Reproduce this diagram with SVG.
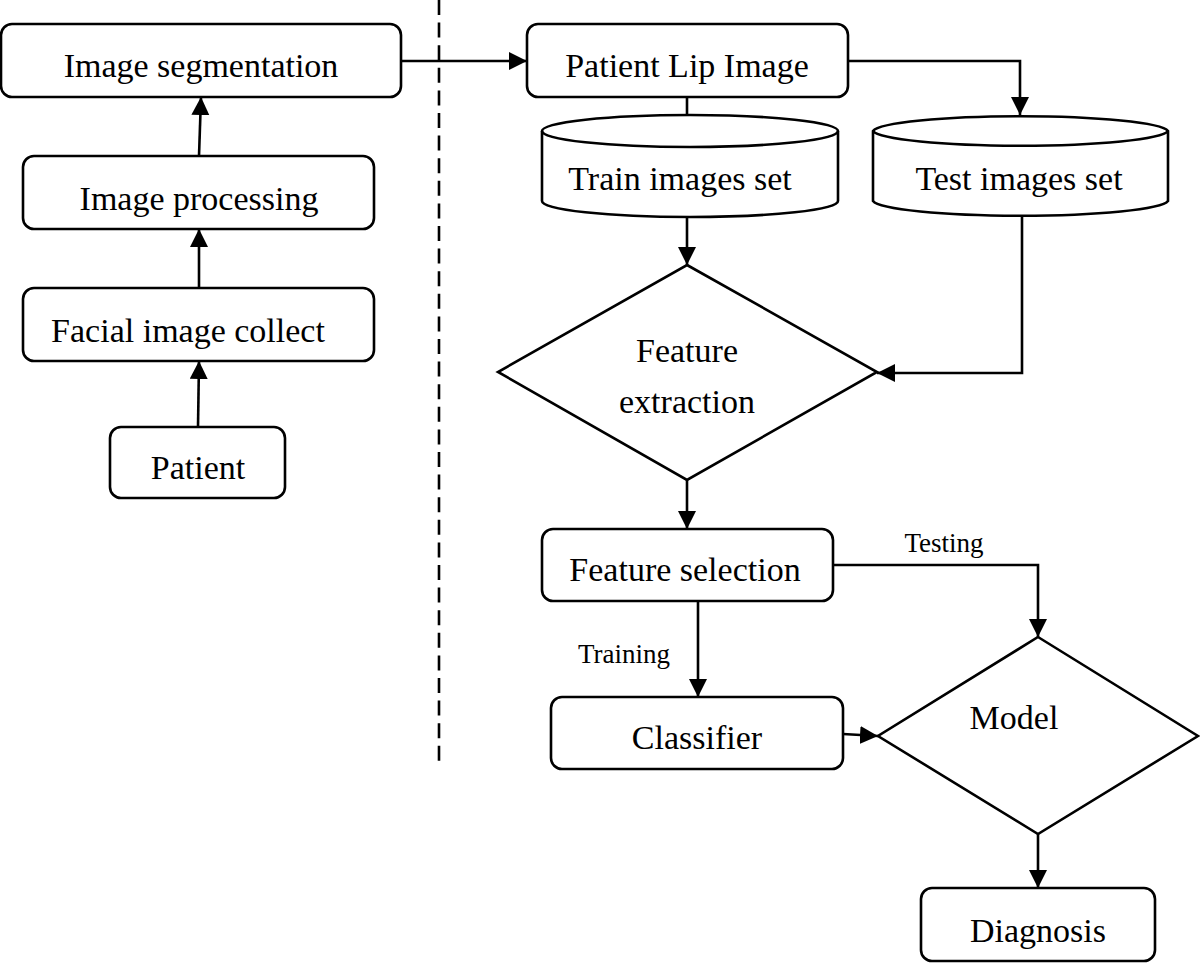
<svg xmlns="http://www.w3.org/2000/svg" width="1200" height="963" viewBox="0 0 1200 963">
<style>
.box{fill:#fff;stroke:#000;stroke-width:2.6}
.ln{fill:none;stroke:#000;stroke-width:2.6}
.t{font-family:"Liberation Serif","Times New Roman",serif;font-size:34px;fill:#000;text-anchor:middle}
.lb{font-family:"Liberation Serif","Times New Roman",serif;font-size:27px;fill:#000;text-anchor:middle}
</style>
<defs>
<marker id="ah" markerUnits="userSpaceOnUse" markerWidth="19" markerHeight="19" refX="18" refY="9" orient="auto" viewBox="0 0 19 19">
<path d="M0,0 L18,9 L0,18 Z" fill="#000"/>
</marker>
</defs>
<rect width="1200" height="963" fill="#fff"/>
<g id="connectors">
<line class="ln" x1="439" y1="0" x2="439" y2="765" stroke-dasharray="15 7.6"/>
<line class="ln" x1="198" y1="427" x2="199" y2="361" marker-end="url(#ah)"/>
<line class="ln" x1="199" y1="288" x2="199" y2="229" marker-end="url(#ah)"/>
<line class="ln" x1="199" y1="156" x2="201" y2="97" marker-end="url(#ah)"/>
<line class="ln" x1="401" y1="61" x2="527" y2="61" marker-end="url(#ah)"/>
<line class="ln" x1="687" y1="97" x2="687" y2="116"/>
<polyline class="ln" points="848,61 1020,61 1020,115" marker-end="url(#ah)"/>
<line class="ln" x1="687" y1="217" x2="687" y2="265" marker-end="url(#ah)"/>
<polyline class="ln" points="1022,217 1022,373 877,373" marker-end="url(#ah)"/>
<line class="ln" x1="687" y1="480" x2="687" y2="529" marker-end="url(#ah)"/>
<polyline class="ln" points="833,565 1038,565 1038,637" marker-end="url(#ah)"/>
<line class="ln" x1="698" y1="601" x2="698" y2="697" marker-end="url(#ah)"/>
<line class="ln" x1="843" y1="734" x2="878" y2="736" marker-end="url(#ah)"/>
<line class="ln" x1="1038" y1="834" x2="1038" y2="888" marker-end="url(#ah)"/>
<text class="lb" x="944" y="552">Testing</text>
<text class="lb" x="624" y="663">Training</text>
</g>
<g id="image-segmentation">
<rect class="box" x="1" y="24" width="400" height="73" rx="11"/>
<text class="t" x="201" y="77">Image segmentation</text>
</g>
<g id="image-processing">
<rect class="box" x="23" y="156" width="351" height="73" rx="11"/>
<text class="t" x="199" y="210">Image processing</text>
</g>
<g id="facial-image-collect">
<rect class="box" x="23" y="288" width="351" height="73" rx="11"/>
<text class="t" x="188" y="342">Facial image collect</text>
</g>
<g id="patient">
<rect class="box" x="110" y="427" width="175" height="71" rx="11"/>
<text class="t" x="198" y="479">Patient</text>
</g>
<g id="patient-lip-image">
<rect class="box" x="527" y="24" width="321" height="73" rx="11"/>
<text class="t" x="687" y="77">Patient Lip Image</text>
</g>
<g id="train-images-set">
<path class="box" d="M542,131 A148,16 0 0 1 838,131 L838,201 A148,16 0 0 1 542,201 Z"/>
<path class="ln" d="M542,131 A148,16 0 0 0 838,131"/>
<text class="t" x="680" y="190">Train images set</text>
</g>
<g id="test-images-set">
<path class="box" d="M873,131 A148,16 0 0 1 1168,131 L1168,201 A148,16 0 0 1 873,201 Z"/>
<path class="ln" d="M873,131 A148,16 0 0 0 1168,131"/>
<text class="t" x="1019" y="190">Test images set</text>
</g>
<g id="feature-extraction">
<polygon class="box" points="687,265 877,372 687,480 498,372"/>
<text class="t" x="687" y="362">Feature</text>
<text class="t" x="687" y="413">extraction</text>
</g>
<g id="feature-selection">
<rect class="box" x="542" y="529" width="291" height="72" rx="11"/>
<text class="t" x="685" y="581">Feature selection</text>
</g>
<g id="classifier">
<rect class="box" x="551" y="697" width="292" height="72" rx="11"/>
<text class="t" x="697" y="749">Classifier</text>
</g>
<g id="model">
<polygon class="box" points="1038,637 1198,736 1038,834 878,736"/>
<text class="t" x="1014" y="729">Model</text>
</g>
<g id="diagnosis">
<rect class="box" x="921" y="888" width="234" height="73" rx="11"/>
<text class="t" x="1038" y="942">Diagnosis</text>
</g>
</svg>
